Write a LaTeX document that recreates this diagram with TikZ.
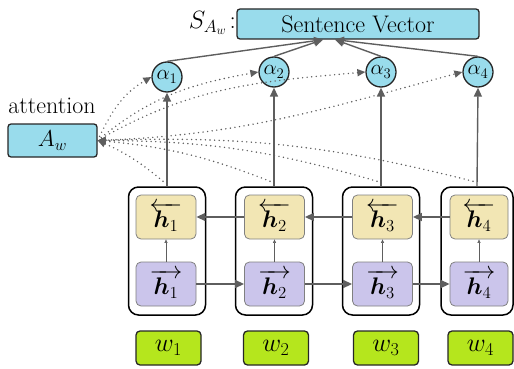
\RequirePackage{fix-cm}
\documentclass[tikz,border=0pt]{standalone}
\usepackage{amsmath,bm}
\usetikzlibrary{arrows.meta}
\definecolor{cblue}{HTML}{99DCEC}
\definecolor{cyel}{HTML}{F2E6B4}
\definecolor{cpur}{HTML}{CBC5EB}
\definecolor{cgreen}{HTML}{B5E61D}
\definecolor{arr}{HTML}{5E5E5E}
\begin{document}
\begin{tikzpicture}[x=1pt,y=1pt,
  every node/.style={font=\fontsize{24}{28}\selectfont, inner sep=0pt},
  bluebox/.style={draw=black!85, line width=1.3pt, fill=cblue, rounded corners=3pt},
  circ/.style={circle, draw=black!85, line width=1.3pt, fill=cblue, minimum size=30pt, font=\fontsize{21}{24}\selectfont},
  outerbox/.style={draw=black, line width=1.5pt, rounded corners=10pt, minimum height=128pt},
  ybox/.style={draw=black!50, line width=0.8pt, fill=cyel, rounded corners=5pt, minimum width=60pt, minimum height=44pt},
  pbox/.style={draw=black!50, line width=0.8pt, fill=cpur, rounded corners=5pt, minimum width=60pt, minimum height=44pt},
  wbox/.style={draw=black!85, line width=1.3pt, fill=cgreen, rounded corners=4pt, minimum width=65pt, minimum height=34pt, font=\fontsize{26}{28}\selectfont},
  solidarr/.style={draw=arr, line width=1.4pt, -{Triangle[length=9pt,width=8pt]}},
  thinarr/.style={draw=arr, line width=0.6pt, -{Triangle[length=3.5pt,width=3pt]}},
  dotarr/.style={draw=arr, line width=1.6pt, line cap=round, dash pattern=on 0pt off 4.6pt, -{Triangle[length=8pt,width=7pt]}}
]
\useasboundingbox (0,0) rectangle (514,-369);

% sentence vector
\node[bluebox, minimum width=242pt, minimum height=30pt] (sv) at (358,-24) {Sentence Vector};
\node[anchor=east, font=\fontsize{25}{28}\selectfont] (slab) at (236,-23) {$S_{A_w}\!:$};

% alphas
\node[circ] (a1) at (167,-77) {$\alpha_1$};
\node[circ] (a2) at (274,-72) {$\alpha_2$};
\node[circ] (a3) at (381,-72) {$\alpha_3$};
\node[circ] (a4) at (478,-72) {$\alpha_4$};

% attention
\node (attl) at (52,-106) {attention};
\node[bluebox, minimum width=89pt, minimum height=33pt, font=\fontsize{23}{26}\selectfont] (aw) at (52.5,-140.5) {$A_w$};

% columns
\node[outerbox, minimum width=77pt] (c1) at (167,-251) {};
\node[outerbox, minimum width=77pt] (c2) at (274,-251) {};
\node[outerbox, minimum width=77pt] (c3) at (381,-251) {};
\node[outerbox, minimum width=72pt] (c4) at (477,-251) {};

\node[ybox] (y1) at (166,-217) {$\overleftarrow{\,\bm{h}_1\,}$};
\node[ybox] (y2) at (274.5,-217) {$\overleftarrow{\,\bm{h}_2\,}$};
\node[ybox] (y3) at (382.5,-217) {$\overleftarrow{\,\bm{h}_3\,}$};
\node[ybox, minimum width=58pt] (y4) at (479,-217) {$\overleftarrow{\,\bm{h}_4\,}$};

\node[pbox] (p1) at (166,-284) {$\overrightarrow{\,\bm{h}_1\,}$};
\node[pbox] (p2) at (274.5,-284) {$\overrightarrow{\,\bm{h}_2\,}$};
\node[pbox] (p3) at (382.5,-284) {$\overrightarrow{\,\bm{h}_3\,}$};
\node[pbox, minimum width=58pt] (p4) at (479,-284) {$\overrightarrow{\,\bm{h}_4\,}$};

\node[wbox] (w1) at (168.5,-348) {$w_1$};
\node[wbox] (w2) at (276,-348) {$w_2$};
\node[wbox] (w3) at (386,-348) {$w_3$};
\node[wbox] (w4) at (480.5,-348) {$w_4$};

% recurrent arrows
\draw[solidarr] (y2.west) -- (y1.east);
\draw[solidarr] (y3.west) -- (y2.east);
\draw[solidarr] (y4.west) -- (y3.east);
\draw[solidarr] (p1.east) -- (p2.west);
\draw[solidarr] (p2.east) -- (p3.west);
\draw[solidarr] (p3.east) -- (p4.west);
\foreach \i in {1,2,3,4} {\draw[thinarr] (p\i.north) -- (y\i.south);}

% vertical to alphas
\foreach \i in {1,2,3,4} {\draw[solidarr] (c\i.north) -- (a\i.south);}

% to sentence vector
\draw[solidarr] (a1.north) -- ([xshift=-35pt]sv.south);
\draw[solidarr] (a2.north) -- ([xshift=-35pt]sv.south);
\draw[solidarr] (a3.north) -- ([xshift=-23pt]sv.south);
\draw[solidarr] (a4.north) -- ([xshift=-23pt]sv.south);

% attention dotted
\foreach \i in {1,2,3,4} {\coordinate (h\i) at ([xshift=-4pt,yshift=5pt]c\i.north);}
\foreach \i in {1,2,3,4} {\draw[dotarr] (h\i) to[bend right=8] (aw.east);}
\draw[dotarr] (aw.east) to[out=65,in=210] (a1.west);
\draw[dotarr] (aw.east) to[out=40,in=190] (a2.west);
\draw[dotarr] (aw.east) to[out=30,in=185] (a3.west);
\draw[dotarr] (aw.east) to[out=2,in=195] (a4.west);
\end{tikzpicture}
\end{document}
